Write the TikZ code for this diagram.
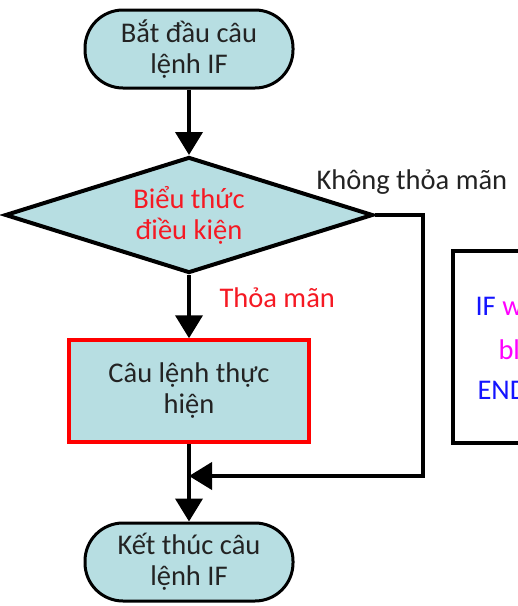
\documentclass[tikz,border=0pt]{standalone}
\usepackage{fontspec}
\setmainfont{Carlito}
\usetikzlibrary{arrows.meta,shapes.geometric}
\definecolor{boxfill}{RGB}{183,222,226}
\definecolor{textdark}{RGB}{35,35,35}
\definecolor{condred}{RGB}{245,25,35}
\definecolor{ifblue}{RGB}{20,20,255}
\definecolor{ifmag}{RGB}{255,0,255}
\tikzset{
  x=1pt, y=1pt,
  flowtext/.style={font=\fontsize{28.5}{31}\selectfont, align=center, text=textdark},
  terminal/.style={flowtext, draw=black, line width=3pt, fill=boxfill,
    rounded corners=38pt, minimum width=208pt, minimum height=78pt, inner sep=0pt},
  decision/.style={flowtext, diamond, aspect=3.17, draw=black, line width=4pt, fill=boxfill,
    minimum width=368pt, minimum height=116pt, inner sep=0pt, text=condred},
  process/.style={flowtext, draw=red, line width=3.5pt, fill=boxfill,
    minimum width=240pt, minimum height=102pt, inner sep=0pt},
  flow/.style={line width=4pt, draw=black, -{Triangle[length=23pt,width=27pt]}},
  note/.style={font=\fontsize{28.5}{31}\selectfont, anchor=west}
}
\begin{document}
\begin{tikzpicture}
\useasboundingbox (0,0) rectangle (518,-606);

\node[terminal] (start) at (189,-49) {Bắt đầu câu\\lệnh IF};
\node[decision] (cond) at (189,-215) {Biểu thức\\điều kiện};
\node[process] (body) at (189,-391) {Câu lệnh thực\\hiện};
\node[terminal] (stop) at (189,-562) {Kết thúc câu\\lệnh IF};
\coordinate (join) at (189,-476);

\draw[flow] (start) -- (cond);
\draw[flow] (cond) -- (body);
\draw[flow] (body) -- (stop);
\draw[flow] (cond.east) -- ++(48,0) |- (join);

\node[note, text=textdark] (nolabel) at (313,-182) {Không thỏa mãn};
\node[note, text=condred] (yeslabel) at (216,-298) {Thỏa mãn};

% side box with the IF ... END IF syntax
\draw[line width=4.5pt] (600,-251) -- (453,-251) -- (453,-443) -- (600,-443);
\node[note] (s1) at (472,-306) {\textcolor{ifblue}{IF} \textcolor{ifmag}{when}};
\node[note] (s2) at (495,-350) {\textcolor{ifmag}{block}};
\node[note] (s3) at (474,-390) {\textcolor{ifblue}{END IF}};
\end{tikzpicture}
\end{document}
